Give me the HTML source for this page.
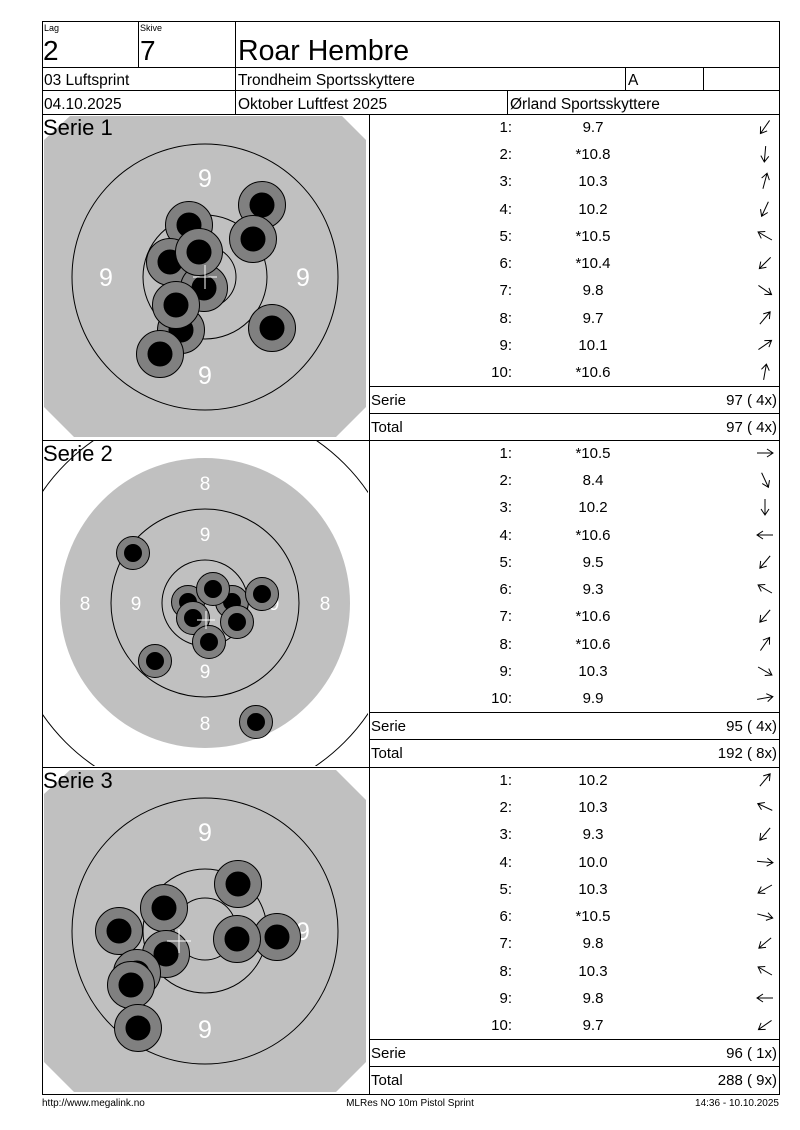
<!DOCTYPE html>
<html><head><meta charset="utf-8"><style>
html,body{margin:0;padding:0;background:#fff}
svg{display:block}
text{font-family:"Liberation Sans",Arial,sans-serif}
</style></head><body>
<svg width="800" height="1130" viewBox="0 0 800 1130" xmlns="http://www.w3.org/2000/svg">
<defs>
<path id="ar" d="M-8,0 L8,0 M2,-4 L8,0 L2,4" fill="none" stroke="#000" stroke-width="1"/>
<clipPath id="c1"><rect x="43" y="115" width="325" height="324"/></clipPath>
<clipPath id="c2"><rect x="43" y="441" width="325" height="325"/></clipPath>
<clipPath id="c3"><rect x="43" y="768" width="325" height="325"/></clipPath>
</defs>
<g stroke="#000" stroke-width="1" fill="none">
<rect x="42.5" y="21.5" width="737" height="1073"/>
<line x1="42" y1="67.5" x2="780" y2="67.5"/>
<line x1="42" y1="90.5" x2="780" y2="90.5"/>
<line x1="42" y1="114.5" x2="780" y2="114.5"/>
<line x1="138.5" y1="21" x2="138.5" y2="67"/>
<line x1="235.5" y1="21" x2="235.5" y2="114"/>
<line x1="625.5" y1="67" x2="625.5" y2="90"/>
<line x1="703.5" y1="67" x2="703.5" y2="90"/>
<line x1="507.5" y1="90" x2="507.5" y2="114"/>
<line x1="369.5" y1="114" x2="369.5" y2="1094"/>
<line x1="42" y1="440.5" x2="780" y2="440.5"/>
<line x1="42" y1="767.5" x2="780" y2="767.5"/>
<line x1="369" y1="386.5" x2="780" y2="386.5"/>
<line x1="369" y1="413.5" x2="780" y2="413.5"/>
<line x1="369" y1="712.5" x2="780" y2="712.5"/>
<line x1="369" y1="739.5" x2="780" y2="739.5"/>
<line x1="369" y1="1039.5" x2="780" y2="1039.5"/>
<line x1="369" y1="1066.5" x2="780" y2="1066.5"/>
</g>
<text x="44" y="31" font-size="9">Lag</text>
<text x="140" y="31" font-size="9">Skive</text>
<text x="43" y="60" font-size="28">2</text>
<text x="140" y="60" font-size="28">7</text>
<text x="238" y="60" font-size="28.5">Roar Hembre</text>
<text x="44" y="85" font-size="15.5">03 Luftsprint</text>
<text x="238" y="85" font-size="15.5">Trondheim Sportsskyttere</text>
<text x="628" y="85" font-size="15.5">A</text>
<text x="44" y="109" font-size="15.5">04.10.2025</text>
<text x="238" y="109" font-size="15.5">Oktober Luftfest 2025</text>
<text x="510" y="109" font-size="15.5">Ørland Sportsskyttere</text>

<g clip-path="url(#c1)">
<polygon points="70,116 342,116 366,140 366,407 336,437 74,437 44,407 44,140" fill="#c0c0c0"/>
<g fill="none" stroke="#000"><circle cx="205" cy="277" r="133"/><circle cx="205" cy="277" r="62"/><circle cx="205" cy="277" r="31"/></g>
<g fill="#fff" font-size="25" text-anchor="middle"><text x="205" y="187">9</text><text x="106" y="286">9</text><text x="303" y="286">9</text><text x="205" y="384">9</text></g>
<g stroke="#000" stroke-width="1">
<circle cx="262" cy="205" r="23.5" fill="#808080"/><circle cx="262" cy="205" r="12" fill="#000"/>
<circle cx="253" cy="239" r="23.5" fill="#808080"/><circle cx="253" cy="239" r="12" fill="#000"/>
<circle cx="189" cy="225" r="23.5" fill="#808080"/><circle cx="189" cy="225" r="12" fill="#000"/>
<circle cx="170" cy="262" r="23.5" fill="#808080"/><circle cx="170" cy="262" r="12" fill="#000"/>
<circle cx="204" cy="288" r="23.5" fill="#808080"/><circle cx="204" cy="288" r="12" fill="#000"/>
<circle cx="199" cy="252" r="23.5" fill="#808080"/><circle cx="199" cy="252" r="12" fill="#000"/>
<circle cx="181" cy="330" r="23.5" fill="#808080"/><circle cx="181" cy="330" r="12" fill="#000"/>
<circle cx="176" cy="305" r="23.5" fill="#808080"/><circle cx="176" cy="305" r="12" fill="#000"/>
<circle cx="160" cy="354" r="23.5" fill="#808080"/><circle cx="160" cy="354" r="12" fill="#000"/>
<circle cx="272" cy="328" r="23.5" fill="#808080"/><circle cx="272" cy="328" r="12" fill="#000"/>
</g>
<path d="M193,277 H217 M205,265 V289" stroke="#fff"/>
</g>
<text x="43" y="135" font-size="22">Serie 1</text>

<g clip-path="url(#c2)">
<circle cx="205" cy="603" r="145" fill="#c0c0c0"/>
<g fill="none" stroke="#000"><circle cx="205" cy="603" r="197"/><circle cx="205" cy="603" r="94"/><circle cx="205" cy="603" r="43"/></g>
<g fill="#fff" font-size="19" text-anchor="middle"><text x="205" y="490">8</text><text x="85" y="610">8</text><text x="325" y="610">8</text><text x="205" y="730">8</text>
<text x="205" y="541">9</text><text x="136" y="610">9</text><text x="274" y="610">9</text><text x="205" y="678">9</text></g>
<g stroke="#000" stroke-width="1">
<circle cx="133" cy="553" r="16.5" fill="#808080"/><circle cx="133" cy="553" r="8.5" fill="#000"/>
<circle cx="188" cy="602" r="16.5" fill="#808080"/><circle cx="188" cy="602" r="8.5" fill="#000"/>
<circle cx="232" cy="602" r="16.5" fill="#808080"/><circle cx="232" cy="602" r="8.5" fill="#000"/>
<circle cx="213" cy="589" r="16.5" fill="#808080"/><circle cx="213" cy="589" r="8.5" fill="#000"/>
<circle cx="262" cy="594" r="16.5" fill="#808080"/><circle cx="262" cy="594" r="8.5" fill="#000"/>
<circle cx="193" cy="618" r="16.5" fill="#808080"/><circle cx="193" cy="618" r="8.5" fill="#000"/>
<circle cx="237" cy="622" r="16.5" fill="#808080"/><circle cx="237" cy="622" r="8.5" fill="#000"/>
<circle cx="209" cy="642" r="16.5" fill="#808080"/><circle cx="209" cy="642" r="8.5" fill="#000"/>
<circle cx="155" cy="661" r="16.5" fill="#808080"/><circle cx="155" cy="661" r="8.5" fill="#000"/>
<circle cx="256" cy="722" r="16.5" fill="#808080"/><circle cx="256" cy="722" r="8.5" fill="#000"/>
</g>
<path d="M197,620 H215 M206,611 V629" stroke="#fff"/>
</g>
<text x="43" y="461" font-size="22">Serie 2</text>

<g clip-path="url(#c3)">
<polygon points="70,770 336,770 366,800 366,1062 336,1092 74,1092 44,1062 44,794" fill="#c0c0c0"/>
<g fill="none" stroke="#000"><circle cx="205" cy="931" r="133"/><circle cx="205" cy="931" r="62"/><circle cx="205" cy="929" r="31"/></g>
<g fill="#fff" font-size="25" text-anchor="middle"><text x="205" y="841">9</text><text x="303" y="940">9</text><text x="205" y="1038">9</text></g>
<g stroke="#000" stroke-width="1">
<circle cx="238" cy="884" r="23.5" fill="#808080"/><circle cx="238" cy="884" r="12" fill="#000"/>
<circle cx="164" cy="908" r="23.5" fill="#808080"/><circle cx="164" cy="908" r="12" fill="#000"/>
<circle cx="119" cy="931" r="23.5" fill="#808080"/><circle cx="119" cy="931" r="12" fill="#000"/>
<circle cx="166" cy="954" r="23.5" fill="#808080"/><circle cx="166" cy="954" r="12" fill="#000"/>
<circle cx="277" cy="937" r="23.5" fill="#808080"/><circle cx="277" cy="937" r="12" fill="#000"/>
<circle cx="237" cy="939" r="23.5" fill="#808080"/><circle cx="237" cy="939" r="12" fill="#000"/>
<circle cx="137" cy="973" r="23.5" fill="#808080"/><circle cx="137" cy="973" r="12" fill="#000"/>
<circle cx="131" cy="985" r="23.5" fill="#808080"/><circle cx="131" cy="985" r="12" fill="#000"/>
<circle cx="138" cy="1028" r="23.5" fill="#808080"/><circle cx="138" cy="1028" r="12" fill="#000"/>
</g>
<path d="M167,941 H191 M179,929 V953" stroke="#fff"/>
</g>
<text x="43" y="788" font-size="22">Serie 3</text>

<g font-size="15">
<g text-anchor="end">
<text x="512" y="132">1:</text><text x="512" y="159">2:</text><text x="512" y="186">3:</text><text x="512" y="214">4:</text><text x="512" y="241">5:</text><text x="512" y="268">6:</text><text x="512" y="295">7:</text><text x="512" y="323">8:</text><text x="512" y="350">9:</text><text x="512" y="377">10:</text>
<text x="512" y="458">1:</text><text x="512" y="485">2:</text><text x="512" y="512">3:</text><text x="512" y="540">4:</text><text x="512" y="567">5:</text><text x="512" y="594">6:</text><text x="512" y="621">7:</text><text x="512" y="649">8:</text><text x="512" y="676">9:</text><text x="512" y="703">10:</text>
<text x="512" y="785">1:</text><text x="512" y="812">2:</text><text x="512" y="839">3:</text><text x="512" y="867">4:</text><text x="512" y="894">5:</text><text x="512" y="921">6:</text><text x="512" y="948">7:</text><text x="512" y="976">8:</text><text x="512" y="1003">9:</text><text x="512" y="1030">10:</text>
<text x="777" y="405">97 ( 4x)</text><text x="777" y="432">97 ( 4x)</text>
<text x="777" y="731">95 ( 4x)</text><text x="777" y="758">192 ( 8x)</text>
<text x="777" y="1058">96 ( 1x)</text><text x="777" y="1085">288 ( 9x)</text>
</g>
<g text-anchor="middle">
<text x="593" y="132">9.7</text><text x="593" y="159">*10.8</text><text x="593" y="186">10.3</text><text x="593" y="214">10.2</text><text x="593" y="241">*10.5</text><text x="593" y="268">*10.4</text><text x="593" y="295">9.8</text><text x="593" y="323">9.7</text><text x="593" y="350">10.1</text><text x="593" y="377">*10.6</text>
<text x="593" y="458">*10.5</text><text x="593" y="485">8.4</text><text x="593" y="512">10.2</text><text x="593" y="540">*10.6</text><text x="593" y="567">9.5</text><text x="593" y="594">9.3</text><text x="593" y="621">*10.6</text><text x="593" y="649">*10.6</text><text x="593" y="676">10.3</text><text x="593" y="703">9.9</text>
<text x="593" y="785">10.2</text><text x="593" y="812">10.3</text><text x="593" y="839">9.3</text><text x="593" y="867">10.0</text><text x="593" y="894">10.3</text><text x="593" y="921">*10.5</text><text x="593" y="948">9.8</text><text x="593" y="976">10.3</text><text x="593" y="1003">9.8</text><text x="593" y="1030">9.7</text>
</g>
<text x="371" y="405">Serie</text><text x="371" y="432">Total</text>
<text x="371" y="731">Serie</text><text x="371" y="758">Total</text>
<text x="371" y="1058">Serie</text><text x="371" y="1085">Total</text>
</g>

<use href="#ar" transform="translate(765,127) rotate(125)"/>
<use href="#ar" transform="translate(765,154) rotate(95)"/>
<use href="#ar" transform="translate(765,181) rotate(285)"/>
<use href="#ar" transform="translate(765,209) rotate(115)"/>
<use href="#ar" transform="translate(765,236) rotate(210)"/>
<use href="#ar" transform="translate(765,263) rotate(135)"/>
<use href="#ar" transform="translate(765,290) rotate(35)"/>
<use href="#ar" transform="translate(765,318) rotate(310)"/>
<use href="#ar" transform="translate(765,345) rotate(325)"/>
<use href="#ar" transform="translate(765,372) rotate(280)"/>

<use href="#ar" transform="translate(765,453) rotate(0)"/>
<use href="#ar" transform="translate(765,480) rotate(65)"/>
<use href="#ar" transform="translate(765,507) rotate(90)"/>
<use href="#ar" transform="translate(765,535) rotate(180)"/>
<use href="#ar" transform="translate(765,562) rotate(130)"/>
<use href="#ar" transform="translate(765,589) rotate(210)"/>
<use href="#ar" transform="translate(765,616) rotate(130)"/>
<use href="#ar" transform="translate(765,644) rotate(305)"/>
<use href="#ar" transform="translate(765,671) rotate(30)"/>
<use href="#ar" transform="translate(765,698) rotate(350)"/>

<use href="#ar" transform="translate(765,780) rotate(310)"/>
<use href="#ar" transform="translate(765,807) rotate(205)"/>
<use href="#ar" transform="translate(765,834) rotate(130)"/>
<use href="#ar" transform="translate(765,862) rotate(5)"/>
<use href="#ar" transform="translate(765,889) rotate(150)"/>
<use href="#ar" transform="translate(765,916) rotate(15)"/>
<use href="#ar" transform="translate(765,943) rotate(140)"/>
<use href="#ar" transform="translate(765,971) rotate(210)"/>
<use href="#ar" transform="translate(765,998) rotate(180)"/>
<use href="#ar" transform="translate(765,1025) rotate(145)"/>

<text x="42" y="1106" font-size="10">http://www.megalink.no</text>
<text x="410" y="1106" font-size="10" text-anchor="middle">MLRes NO 10m Pistol Sprint</text>
<text x="779" y="1106" font-size="10" text-anchor="end">14:36 - 10.10.2025</text>
</svg>
</body></html>
